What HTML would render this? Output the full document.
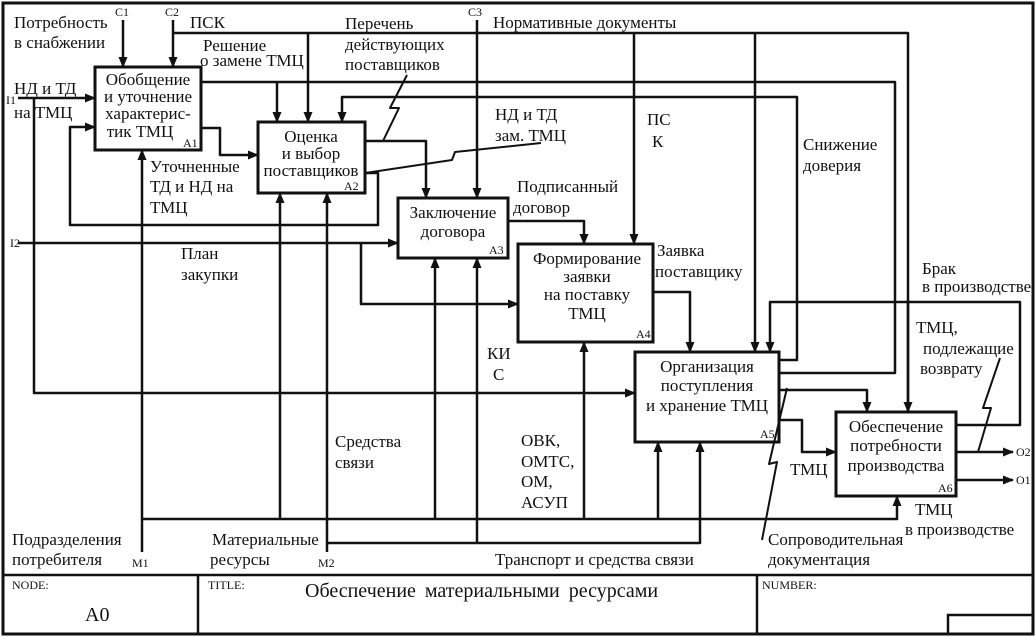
<!DOCTYPE html>
<html><head><meta charset="utf-8"><style>
html,body{margin:0;padding:0;background:#fff}
svg{display:block}
text{font-family:"Liberation Serif","DejaVu Serif",serif;fill:#111}
.t{font-size:17px}
.s{font-size:12px}
.b{font-size:17px;text-anchor:middle}
</style></head><body>
<svg width="1036" height="637" viewBox="0 0 1036 637" xmlns="http://www.w3.org/2000/svg">
<defs>
<marker id="a" markerWidth="11" markerHeight="11" refX="10" refY="5.5" orient="auto" markerUnits="userSpaceOnUse">
<path d="M0,1 L11,5.5 L0,10 Z" fill="#111"/></marker>
</defs>
<g fill="none" stroke="#111" stroke-width="2.5">
<rect x="3" y="3" width="1030" height="631" stroke-width="3"/>
<line x1="3" y1="575" x2="1033" y2="575"/>
<line x1="198" y1="575" x2="198" y2="634"/>
<line x1="757" y1="575" x2="757" y2="634"/>
<rect x="948" y="615" width="85" height="19"/>
<rect x="95" y="67" width="106" height="83" stroke-width="3"/>
<rect x="258" y="122" width="107" height="71" stroke-width="3"/>
<rect x="398" y="198" width="110" height="60" stroke-width="3"/>
<rect x="518" y="244" width="135" height="98" stroke-width="3"/>
<rect x="635" y="352" width="144" height="90" stroke-width="3"/>
<rect x="836" y="412" width="120" height="84" stroke-width="3"/>
</g>
<g fill="none" stroke="#111" stroke-width="2.5" stroke-linejoin="round">
<path d="M18,98 H95" marker-end="url(#a)"/>
<path d="M34,98 V393 H635" marker-end="url(#a)"/>
<path d="M18,243 H398" marker-end="url(#a)"/>
<path d="M361,243 V304 H518" marker-end="url(#a)"/>
<path d="M123,20 V67" marker-end="url(#a)"/>
<path d="M173,20 V67" marker-end="url(#a)"/>
<path d="M173,33 H908 V412" />
<path d="M308,33 V122" marker-end="url(#a)"/>
<path d="M908,300 V412" marker-end="url(#a)"/>
<path d="M634,33 V244" marker-end="url(#a)"/>
<path d="M755,33 V352" marker-end="url(#a)"/>
<path d="M477,20 V198" marker-end="url(#a)"/>
<path d="M201,82 H895 V373 H779"/>
<path d="M277,82 V122" marker-end="url(#a)"/>
<path d="M779,360 H797 V97 H342 V122" marker-end="url(#a)"/>
<path d="M201,128 H220 V155 H258" marker-end="url(#a)"/>
<path d="M365,173 H378 V225 H70 V127 H95" marker-end="url(#a)"/>
<path d="M365,141 H426 V198" marker-end="url(#a)"/>
<path d="M407,75 L390,108 L399,108 L383,141" stroke-width="2"/>
<path d="M365,173 L452,160 L455,152 L541,143" stroke-width="2"/>
<path d="M508,221 H584 V244" marker-end="url(#a)"/>
<path d="M653,292 H690 V352" marker-end="url(#a)"/>
<path d="M956,425 H1020 V302 H770 V352" marker-end="url(#a)"/>
<path d="M779,390 H867 V412" marker-end="url(#a)"/>
<path d="M779,420 H802 V452 H836" marker-end="url(#a)"/>
<path d="M762,540 L777,462 L769,464 L787,388" stroke-width="2"/>
<path d="M956,452 H1013" marker-end="url(#a)"/>
<path d="M956,480 H1013" marker-end="url(#a)"/>
<path d="M1000,358 L983,408 L991,408 L978,452" stroke-width="2"/>
<path d="M142,552 V150" marker-end="url(#a)"/>
<path d="M142,519 H897 V496" marker-end="url(#a)"/>
<path d="M280,519 V193" marker-end="url(#a)"/>
<path d="M435,519 V258" marker-end="url(#a)"/>
<path d="M584,519 V342" marker-end="url(#a)"/>
<path d="M658,519 V442" marker-end="url(#a)"/>
<path d="M327,552 V193" marker-end="url(#a)"/>
<path d="M327,543 H700 V442" marker-end="url(#a)"/>
<path d="M477,543 V258" marker-end="url(#a)"/>
</g>
<text class="b" x="148" y="85">Обобщение</text>
<text class="b" x="148" y="102">и уточнение</text>
<text class="b" x="148" y="119">характерис-</text>
<text class="b" x="140" y="137">тик ТМЦ</text>
<text class="s" x="183" y="147">A1</text>
<text class="b" x="311" y="142">Оценка</text>
<text class="b" x="311" y="159">и выбор</text>
<text class="b" x="311" y="176">поставщиков</text>
<text class="s" x="344" y="190">A2</text>
<text class="b" x="453" y="218">Заключение</text>
<text class="b" x="453" y="237">договора</text>
<text class="s" x="489" y="254">A3</text>
<text class="b" x="587" y="264">Формирование</text>
<text class="b" x="587" y="282">заявки</text>
<text class="b" x="587" y="300">на поставку</text>
<text class="b" x="587" y="319">ТМЦ</text>
<text class="s" x="636" y="338">A4</text>
<text class="b" x="707" y="372">Организация</text>
<text class="b" x="707" y="391">поступления</text>
<text class="b" x="707" y="411">и хранение ТМЦ</text>
<text class="s" x="760" y="438">A5</text>
<text class="b" x="896" y="432">Обеспечение</text>
<text class="b" x="896" y="451">потребности</text>
<text class="b" x="896" y="471">производства</text>
<text class="s" x="938" y="492">A6</text>
<text class="s" x="115" y="16">C1</text>
<text class="s" x="165" y="16">C2</text>
<text class="s" x="468" y="16">C3</text>
<text class="t" x="14" y="28">Потребность</text>
<text class="t" x="14" y="48">в снабжении</text>
<text class="t" x="190" y="28">ПСК</text>
<text class="t" x="203" y="51">Решение</text>
<text class="t" x="200" y="66">о замене ТМЦ</text>
<text class="t" x="345" y="29">Перечень</text>
<text class="t" x="345" y="50">действующих</text>
<text class="t" x="345" y="70">поставщиков</text>
<text class="t" x="493" y="28">Нормативные документы</text>
<text class="t" x="14" y="94">НД и ТД</text>
<text class="t" x="14" y="118">на ТМЦ</text>
<text class="s" x="6" y="104">I1</text>
<text class="t" x="495" y="120">НД и ТД</text>
<text class="t" x="495" y="141">зам. ТМЦ</text>
<text class="t" x="647" y="125">ПС</text>
<text class="t" x="652" y="147">К</text>
<text class="t" x="803" y="150">Снижение</text>
<text class="t" x="803" y="171">доверия</text>
<text class="t" x="150" y="172">Уточненные</text>
<text class="t" x="150" y="192">ТД и НД на</text>
<text class="t" x="150" y="213">ТМЦ</text>
<text class="t" x="517" y="192">Подписанный</text>
<text class="t" x="513" y="213">договор</text>
<text class="s" x="10" y="247">I2</text>
<text class="t" x="181" y="259">План</text>
<text class="t" x="181" y="280">закупки</text>
<text class="t" x="657" y="256">Заявка</text>
<text class="t" x="655" y="277">поставщику</text>
<text class="t" x="922" y="274">Брак</text>
<text class="t" x="922" y="292">в производстве</text>
<text class="t" x="916" y="333">ТМЦ,</text>
<text class="t" x="923" y="354">подлежащие</text>
<text class="t" x="920" y="374">возврату</text>
<text class="t" x="487" y="359">КИ</text>
<text class="t" x="493" y="380">С</text>
<text class="t" x="335" y="447">Средства</text>
<text class="t" x="335" y="468">связи</text>
<text class="t" x="521" y="446">ОВК,</text>
<text class="t" x="521" y="467">ОМТС,</text>
<text class="t" x="521" y="487">ОМ,</text>
<text class="t" x="521" y="508">АСУП</text>
<text class="t" x="790" y="475">ТМЦ</text>
<text class="t" x="915" y="515">ТМЦ</text>
<text class="t" x="905" y="535">в производстве</text>
<text class="s" x="1016" y="456">O2</text>
<text class="s" x="1016" y="484">O1</text>
<text class="t" x="12" y="545">Подразделения</text>
<text class="t" x="12" y="565">потребителя</text>
<text class="s" x="132" y="567">M1</text>
<text class="t" x="212" y="545">Материальные</text>
<text class="t" x="210" y="565">ресурсы</text>
<text class="s" x="318" y="567">M2</text>
<text class="t" x="495" y="565">Транспорт и средства связи</text>
<text class="t" x="768" y="545">Сопроводительная</text>
<text class="t" x="768" y="565">документация</text>
<text class="s" x="12" y="589">NODE:</text>
<text x="85" y="621" style="font-size:20px">A0</text>
<text class="s" x="208" y="589">TITLE:</text>
<text x="305" y="597" style="font-size:20px;word-spacing:4px">Обеспечение материальными ресурсами</text>
<text class="s" x="762" y="589">NUMBER:</text>
</svg>
</body></html>
